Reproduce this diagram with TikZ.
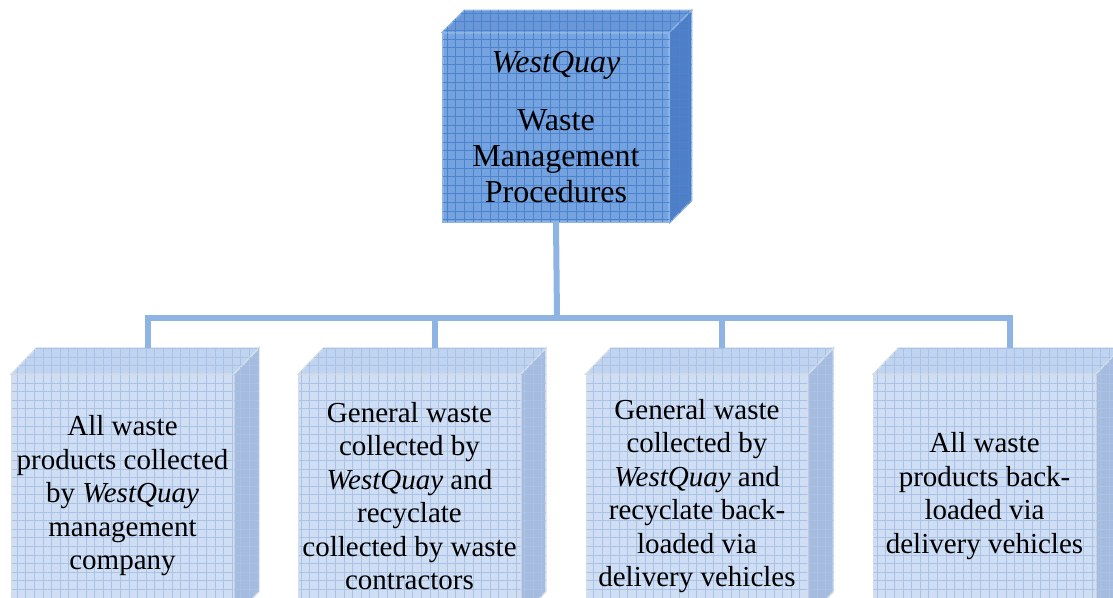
\documentclass[tikz,border=0pt]{standalone}
\usepackage{fontspec}
\setmainfont{Liberation Serif}
\usetikzlibrary{patterns.meta}

\definecolor{topfront}{HTML}{75A3E0}
\definecolor{topgrid}{HTML}{4C83CF}
\definecolor{topside}{HTML}{4E7FC6}
\definecolor{toplid}{HTML}{6A97D8}
\definecolor{topedge}{HTML}{8EB4E3}
\definecolor{lowfront}{HTML}{D0DEF3}
\definecolor{lowgrid}{HTML}{A8C2E8}
\definecolor{lowside}{HTML}{A6BCDE}
\definecolor{lowlid}{HTML}{C0D3EF}
\definecolor{lowedge}{HTML}{D3DEEA}
\definecolor{linkblue}{HTML}{8EB4E3}

\tikzset{
  gridfill/.style={postaction={pattern={Hatch[angle=0,distance=4.3pt,line width=0.45pt]},pattern color=#1}},
  bigbox/.style={draw=topedge,line width=0.7pt,fill=topfront,gridfill=topgrid,
    minimum width=113pt,minimum height=94.5pt,inner sep=0pt,align=center,
    font=\fontsize{16}{18}\selectfont},
  smallbox/.style={draw=lowedge,line width=0.8pt,fill=lowfront,gridfill=lowgrid,
    minimum width=110.5pt,minimum height=121pt,inner sep=0pt,align=center,
    font=\fontsize{14.5}{16.75}\selectfont},
  link/.style={draw=linkblue,line width=3pt}
}

% top face and side face of a box; #1 node, #2 depth x, #3 depth y, #4 lid colour, #5 side colour, #6 grid, #7 edge
\newcommand\boxfaces[7]{%
  \filldraw[draw=#7,line width=0.7pt,fill=#4,gridfill=#6] (#1.north west) -- ([shift={(#2,-#3)}]#1.north west)
    -- ([shift={(#2,-#3)}]#1.north east) -- (#1.north east) -- cycle;
  \filldraw[draw=#7,line width=0.7pt,fill=#5,gridfill=#6] (#1.north east) -- ([shift={(#2,-#3)}]#1.north east)
    -- ([shift={(#2,-#3)}]#1.south east) -- (#1.south east) -- cycle;
}

\begin{document}
\begin{tikzpicture}[x=0.5pt,y=-0.5pt]
	\useasboundingbox (0,0) rectangle (1113,598);
	\clip (0,0) rectangle (1113,598);

	% joint of the connectors
	\coordinate (j) at (557,318);

	\node[bigbox] (top) at (556,127.5) {\textit{WestQuay}\\[11pt]Waste\\Management\\Procedures};
	\boxfaces{top}{22}{22}{toplid}{topside}{topgrid}{topedge}

	\node[smallbox] (b1) at (122.5,496) {All waste\\products collected\\by \textit{WestQuay}\\management\\company};
	\node[smallbox] (b2) at (409.5,496) {General waste\\collected by\\\textit{WestQuay} and\\recyclate\\collected by waste\\contractors};
	\node[smallbox] (b3) at (697,496) {General waste\\collected by\\\textit{WestQuay} and\\recyclate back-\\loaded via\\delivery vehicles};
	\node[smallbox] (b4) at (984.5,496) {All waste\\products back-\\loaded via\\delivery vehicles};
	\boxfaces{b1}{25}{26}{lowlid}{lowside}{lowgrid}{lowedge}
	\boxfaces{b2}{25}{26}{lowlid}{lowside}{lowgrid}{lowedge}
	\boxfaces{b3}{25}{26}{lowlid}{lowside}{lowgrid}{lowedge}
	\boxfaces{b4}{25}{26}{lowlid}{lowside}{lowgrid}{lowedge}

	\draw[link] (top.south) -- (j);
	\foreach \b in {b1,b2,b3,b4}
		\draw[link] ([shift={(25,-26)}]\b.north) |- (j);
\end{tikzpicture}
\end{document}
